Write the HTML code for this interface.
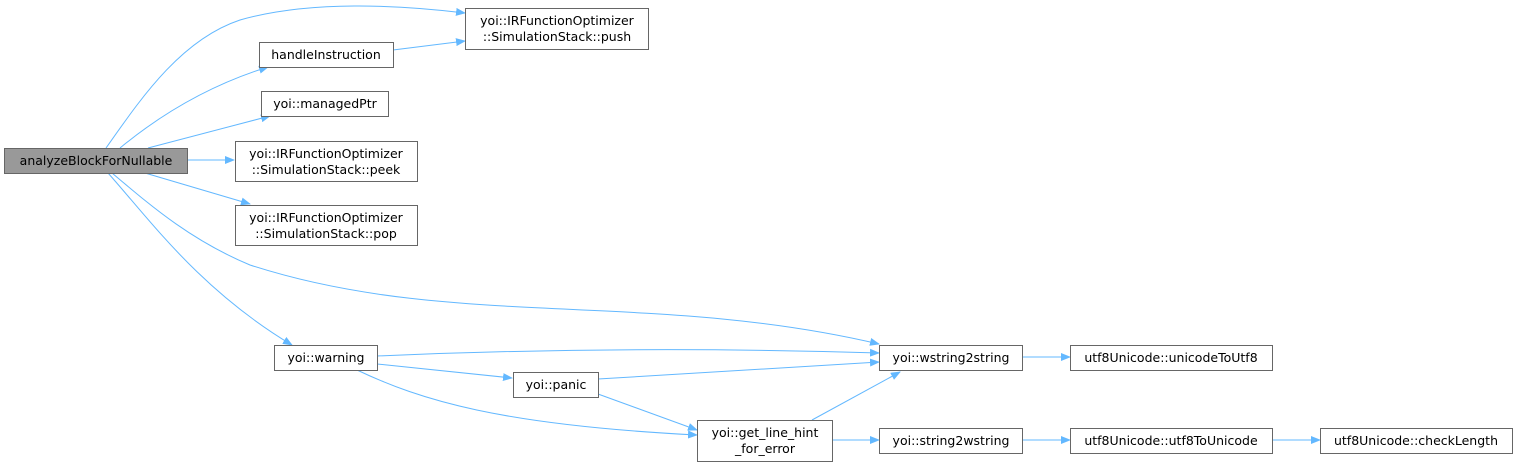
<!DOCTYPE html>
<html><head><meta charset="utf-8"><style>
html,body{margin:0;padding:0;background:#fff;}
svg text{font-family:"DejaVu Sans","Liberation Sans",sans-serif;font-size:12.5px;fill:#000;}
</style></head><body>
<svg width="1517" height="466" viewBox="0 0 1517 466" xmlns="http://www.w3.org/2000/svg">
<defs><marker id="a" markerWidth="10" markerHeight="8" refX="9" refY="4" orient="auto" markerUnits="userSpaceOnUse"><path d="M0,0 L10,4 L0,8 z" fill="#63b8ff"/></marker></defs>
<g fill="none" stroke="#63b8ff" stroke-width="1" marker-end="url(#a)">
<path d="M106,148 C140,100 180,40 240,20 C310,0 400,5 465,13"/>
<path d="M120,148 C160,115 210,85 268,67"/>
<path d="M393,50 L465,41"/>
<path d="M148,148 L270,116"/>
<path d="M188,160 L234,160"/>
<path d="M145,173 L250,204"/>
<path d="M112,173 C150,205 190,240 250,265 C450,330 650,290 879,344"/>
<path d="M108,173 C150,220 200,290 292,345"/>
<path d="M377,356 C560,348 720,348 879,353"/>
<path d="M377,364 L512,378"/>
<path d="M598,379 L879,362"/>
<path d="M357,370 C420,400 500,425 697,435"/>
<path d="M598,394 L697,430"/>
<path d="M812,420 L900,372"/>
<path d="M1022,357 L1070,357"/>
<path d="M832,440 L879,440"/>
<path d="M1022,440 L1070,440"/>
<path d="M1272,440 L1320,440"/>
</g>
<g stroke="#666" stroke-width="1" fill="#fff">
<rect x="4.5" y="148.5" width="183" height="25" fill="#999"/>
<rect x="465.5" y="8.5" width="183" height="41"/>
<rect x="259.5" y="42.5" width="134" height="25"/>
<rect x="261.5" y="91.5" width="127" height="25"/>
<rect x="235.5" y="141.5" width="182" height="40"/>
<rect x="235.5" y="205.5" width="182" height="40"/>
<rect x="274.5" y="345.5" width="103" height="25"/>
<rect x="513.5" y="372.5" width="85" height="25"/>
<rect x="697.5" y="420.5" width="135" height="41"/>
<rect x="879.5" y="345.5" width="143" height="25"/>
<rect x="1070.5" y="345.5" width="202" height="25"/>
<rect x="879.5" y="428.5" width="143" height="25"/>
<rect x="1070.5" y="428.5" width="202" height="25"/>
<rect x="1320.5" y="428.5" width="192" height="25"/>
</g>
<g text-anchor="middle">
<text x="96" y="165">analyzeBlockForNullable</text>
<text x="557" y="25">yoi::IRFunctionOptimizer</text>
<text x="557" y="41">::SimulationStack::push</text>
<text x="326" y="59">handleInstruction</text>
<text x="325" y="108">yoi::managedPtr</text>
<text x="326" y="158">yoi::IRFunctionOptimizer</text>
<text x="326" y="174">::SimulationStack::peek</text>
<text x="326" y="222">yoi::IRFunctionOptimizer</text>
<text x="326" y="238">::SimulationStack::pop</text>
<text x="326" y="362">yoi::warning</text>
<text x="556" y="389">yoi::panic</text>
<text x="765" y="437">yoi::get_line_hint</text>
<text x="765" y="453">_for_error</text>
<text x="951" y="362">yoi::wstring2string</text>
<text x="1171" y="362">utf8Unicode::unicodeToUtf8</text>
<text x="951" y="445">yoi::string2wstring</text>
<text x="1171" y="445">utf8Unicode::utf8ToUnicode</text>
<text x="1416" y="445">utf8Unicode::checkLength</text>
</g>
</svg>
</body></html>
